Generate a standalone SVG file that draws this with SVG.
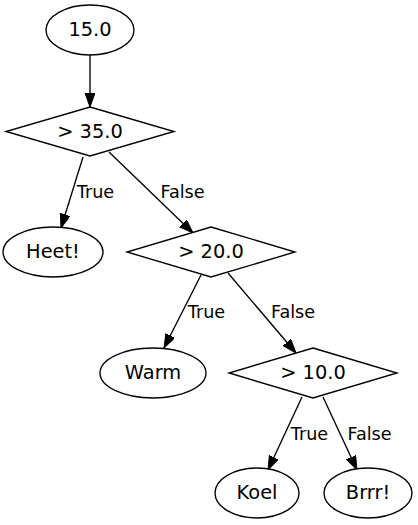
<svg xmlns="http://www.w3.org/2000/svg" width="418" height="525" viewBox="0 0 418 525">
<defs>
<marker id="arr" markerUnits="userSpaceOnUse" markerWidth="16" markerHeight="12" refX="14" refY="5" orient="auto">
<path d="M0,0 L14,5 L0,10 z" fill="#000" stroke="#000" stroke-width="1"/>
</marker>
</defs>
<style>
.shape{fill:#fff;stroke:#000;stroke-width:1.35}
.nt{font-family:"DejaVu Sans",sans-serif;font-size:19.4px;text-anchor:middle;fill:#000}
.et{font-family:"DejaVu Sans",sans-serif;font-size:17.6px;text-anchor:middle;fill:#000}
.edge{stroke:#000;stroke-width:1.35;fill:none;marker-end:url(#arr)}
</style>
<rect width="418" height="525" fill="#fff"/>
<g id="edges">
<line class="edge" x1="90" y1="55" x2="90" y2="107"/>
<line class="edge" x1="83" y1="157" x2="61" y2="228"/>
<line class="edge" x1="109" y1="152" x2="193" y2="233"/>
<line class="edge" x1="201" y1="275" x2="164" y2="348"/>
<line class="edge" x1="228" y1="273" x2="296" y2="353"/>
<line class="edge" x1="302" y1="397" x2="268" y2="470"/>
<line class="edge" x1="323" y1="397" x2="357" y2="470"/>
<text class="et" x="95.5" y="198">True</text>
<text class="et" x="182.5" y="198">False</text>
<text class="et" x="206.5" y="318">True</text>
<text class="et" x="293" y="318">False</text>
<text class="et" x="309.5" y="440">True</text>
<text class="et" x="369.5" y="440">False</text>
</g>
<g id="n0"><ellipse class="shape" cx="90" cy="30" rx="44" ry="25"/><text class="nt" x="90" y="36">15.0</text></g>
<g id="n1"><polygon class="shape" points="90,107 174,131.5 90,156 6,131.5"/><text class="nt" x="90" y="137.5">&gt; 35.0</text></g>
<g id="n2"><ellipse class="shape" cx="53" cy="252" rx="50" ry="25"/><text class="nt" x="53" y="258">Heet!</text></g>
<g id="n3"><polygon class="shape" points="211,227 295,252 211,277 127,252"/><text class="nt" x="211" y="258">&gt; 20.0</text></g>
<g id="n4"><ellipse class="shape" cx="153" cy="373" rx="53" ry="25"/><text class="nt" x="153" y="379">Warm</text></g>
<g id="n5"><polygon class="shape" points="313,348 397,373 313,398 229,373"/><text class="nt" x="313" y="379">&gt; 10.0</text></g>
<g id="n6"><ellipse class="shape" cx="257" cy="493" rx="42" ry="25"/><text class="nt" x="257" y="499">Koel</text></g>
<g id="n7"><ellipse class="shape" cx="368" cy="493" rx="44" ry="25"/><text class="nt" x="368" y="499">Brrr!</text></g>
</svg>
